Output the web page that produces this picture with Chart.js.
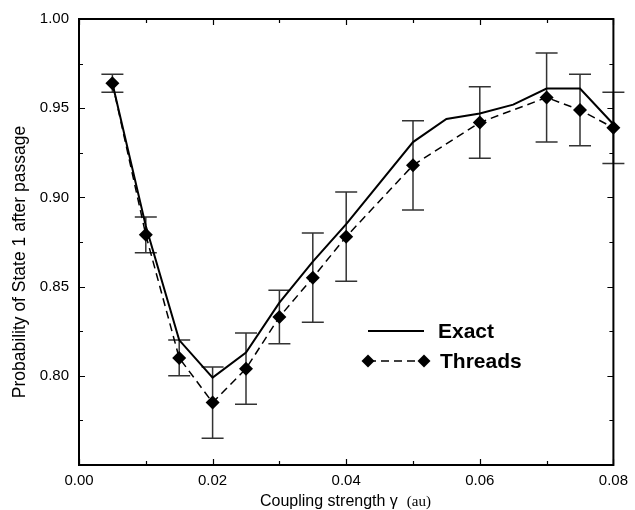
<!DOCTYPE html>
<html>
<head>
<meta charset="utf-8">
<script src="https://cdn.jsdelivr.net/npm/chart.js@4/dist/chart.umd.min.js"></script>
<style>
html,body{margin:0;padding:0;background:#fff;}
#wrap{width:635px;height:510px;position:relative;}
</style>
</head>
<body>
<div id="wrap"><canvas id="c" width="635" height="510"></canvas></div>
<script>
// ---- data ----
const xThreads = [0.005, 0.01, 0.015, 0.02, 0.025, 0.03, 0.035, 0.04, 0.05, 0.06, 0.07, 0.075, 0.08];
const yThreads = [0.964, 0.879, 0.810, 0.785, 0.804, 0.833, 0.855, 0.878, 0.918, 0.942, 0.956, 0.949, 0.939];
const errThreads = [0.005, 0.010, 0.010, 0.020, 0.020, 0.015, 0.025, 0.025, 0.025, 0.020, 0.025, 0.020, 0.020];
const xExact = [0.005, 0.01, 0.015, 0.02, 0.025, 0.03, 0.035, 0.04, 0.05, 0.055, 0.06, 0.065, 0.07, 0.075, 0.08];
const yExact = [0.964, 0.884, 0.820, 0.799, 0.813, 0.841, 0.864, 0.885, 0.931, 0.944, 0.947, 0.952, 0.961, 0.961, 0.941];
const xTickLabels = ["0.00", "0.02", "0.04", "0.06", "0.08"];
const yTickLabels = ["0.80", "0.85", "0.90", "0.95", "1.00"];
const seriesNames = ["Exact", "Threads"];
const xTitle = "Coupling strength \u03b3";
const xTitleUnit = "(au)";
const yTitle = "Probability of State 1 after passage";

const exactData = xExact.map((x, i) => ({x: x, y: yExact[i]}));
const threadsData = xThreads.map((x, i) => ({x: x, y: yThreads[i]}));

const errorBarPlugin = {
  id: 'errorBars',
  beforeDatasetsDraw(chart) {
    const ctx = chart.ctx, xs = chart.scales.x, ys = chart.scales.y;
    ctx.save();
    ctx.strokeStyle = '#333';
    ctx.lineWidth = 1.5;
    xThreads.forEach((x, i) => {
      const px = xs.getPixelForValue(x);
      const top = ys.getPixelForValue(yThreads[i] + errThreads[i]);
      const bot = ys.getPixelForValue(yThreads[i] - errThreads[i]);
      ctx.beginPath();
      ctx.moveTo(px, top); ctx.lineTo(px, bot);
      ctx.moveTo(px - 11, top); ctx.lineTo(px + 11, top);
      ctx.moveTo(px - 11, bot); ctx.lineTo(px + 11, bot);
      ctx.stroke();
    });
    ctx.restore();
  }
};

const framePlugin = {
  id: 'frame',
  afterDraw(chart) {
    const ctx = chart.ctx, a = chart.chartArea, xs = chart.scales.x, ys = chart.scales.y;
    ctx.save();
    ctx.strokeStyle = '#000';
    ctx.lineWidth = 2;
    ctx.strokeRect(a.left, a.top, a.right - a.left, a.bottom - a.top);
    ctx.lineWidth = 1.2;
    ctx.beginPath();
    for (let v = 0; v <= 0.0801; v += 0.01) {
      const px = Math.round(xs.getPixelForValue(v)) + 0.5;
      const major = Math.round(v * 100) % 2 === 0;
      const len = major ? 6 : 4;
      ctx.moveTo(px, a.bottom); ctx.lineTo(px, a.bottom - len);
      ctx.moveTo(px, a.top); ctx.lineTo(px, a.top + len);
    }
    for (let v = 0.75; v <= 1.0001; v += 0.025) {
      const py = Math.round(ys.getPixelForValue(v)) + 0.5;
      const major = Math.round(v * 1000) % 50 === 0;
      const len = major ? 6 : 4;
      ctx.moveTo(a.left, py); ctx.lineTo(a.left + len, py);
      ctx.moveTo(a.right, py); ctx.lineTo(a.right - len, py);
    }
    ctx.stroke();

    // axis titles
    ctx.fillStyle = '#000';
    ctx.font = '16px "Liberation Sans", Arial, sans-serif';
    ctx.textBaseline = 'alphabetic';
    ctx.textAlign = 'left';
    const tx = 260, tyb = 506;
    ctx.fillText(xTitle, tx, tyb);
    const w = ctx.measureText(xTitle).width;
    ctx.font = '15px "Liberation Serif", "Times New Roman", serif';
    ctx.fillText(xTitleUnit, tx + w + 9, tyb);

    ctx.save();
    ctx.translate(25, 262);
    ctx.rotate(-Math.PI / 2);
    ctx.font = '17.5px "Liberation Sans", Arial, sans-serif';
    ctx.textAlign = 'center';
    ctx.fillText(yTitle, 0, 0);
    ctx.restore();

    // legend
    const lx = a.left + 289, ly1 = 331, ly2 = 361;
    ctx.lineWidth = 2;
    ctx.setLineDash([]);
    ctx.beginPath();
    ctx.moveTo(lx, ly1); ctx.lineTo(lx + 56, ly1);
    ctx.stroke();
    ctx.lineWidth = 1.5;
    ctx.setLineDash([8, 5]);
    ctx.beginPath();
    ctx.moveTo(lx, ly2); ctx.lineTo(lx + 56, ly2);
    ctx.stroke();
    ctx.setLineDash([]);
    [lx, lx + 56].forEach(cx => {
      ctx.beginPath();
      ctx.moveTo(cx - 6.5, ly2); ctx.lineTo(cx, ly2 - 6.5);
      ctx.lineTo(cx + 6.5, ly2); ctx.lineTo(cx, ly2 + 6.5);
      ctx.closePath(); ctx.fill();
    });
    ctx.font = 'bold 21px "Liberation Sans", Arial, sans-serif';
    ctx.textAlign = 'left';
    ctx.textBaseline = 'middle';
    ctx.fillText(seriesNames[0], lx + 70, ly1 + 1);
    ctx.fillText(seriesNames[1], lx + 72, ly2 + 1);
    ctx.restore();
  }
};

new Chart(document.getElementById('c'), {
  type: 'line',
  data: {
    datasets: [
      {
        label: seriesNames[0],
        data: exactData,
        borderColor: '#000',
        borderWidth: 2,
        pointRadius: 0,
        fill: false,
        tension: 0,
        clip: false
      },
      {
        label: seriesNames[1],
        data: threadsData,
        borderColor: '#000',
        borderWidth: 1.5,
        borderDash: [8, 5],
        pointStyle: 'rectRot',
        pointRadius: 7,
        pointBackgroundColor: '#000',
        pointBorderColor: '#000',
        pointBorderWidth: 0,
        fill: false,
        tension: 0,
        clip: false
      }
    ]
  },
  options: {
    responsive: false,
    animation: false,
    devicePixelRatio: 1,
    layout: { padding: { top: 16, right: 17, left: 0, bottom: 0 } },
    plugins: { legend: { display: false }, tooltip: { enabled: false } },
    scales: {
      x: {
        type: 'linear',
        min: 0, max: 0.08,
        grid: { display: false, drawTicks: false },
        border: { display: false },
        afterFit(s) { s.height = 45; },
        afterBuildTicks(s) { s.ticks = xTickLabels.map(t => ({ value: parseFloat(t) })); },
        ticks: {
          padding: 7,
          color: '#000',
          font: { size: 15, family: '"Liberation Sans", Arial, sans-serif' },
          maxRotation: 0,
          callback: (v) => xTickLabels.find(t => Math.abs(parseFloat(t) - v) < 1e-9) || ''
        }
      },
      y: {
        type: 'linear',
        min: 0.75, max: 1.0,
        grid: { display: false, drawTicks: false },
        border: { display: false },
        afterFit(s) { s.width = 79; },
        afterBuildTicks(s) { s.ticks = yTickLabels.map(t => ({ value: parseFloat(t) })); },
        ticks: {
          padding: 10,
          color: '#000',
          font: { size: 15, family: '"Liberation Sans", Arial, sans-serif' },
          callback: (v) => yTickLabels.find(t => Math.abs(parseFloat(t) - v) < 1e-9) || ''
        }
      }
    }
  },
  plugins: [errorBarPlugin, framePlugin]
});
</script>
</body>
</html>
